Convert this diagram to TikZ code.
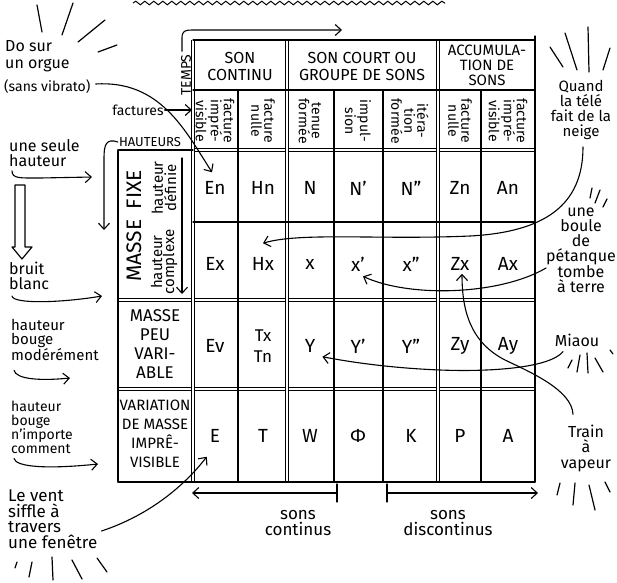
\documentclass[tikz,border=0pt]{standalone}
\usepackage{fontspec}
\setmainfont{Fira Sans}
\usetikzlibrary{arrows.meta,decorations.pathmorphing}
\newcommand{\myfs}[2]{\fontsize{#1}{#2}\selectfont}
\begin{document}
\begin{tikzpicture}[x=1pt,y=-1pt,
  every node/.style={inner sep=1pt},
  ln/.style={line width=1.2pt,line cap=round},
  dbl/.style={line width=0.9pt,double,double distance=1.6pt},
  arr/.style={line width=1.1pt,line cap=round,-{Straight Barb[length=6pt,width=11pt]}},
  ray/.style={line width=1.2pt,line cap=round},
  cell/.style={font=\myfs{19}{19}},
  grp/.style={font=\myfs{16}{17},align=center},
  vh/.style={rotate=-90,font=\myfs{14}{13},align=center},
  lab/.style={anchor=west,align=left},
  rlab/.style={align=center},
]
\fill[white] (0,0) rectangle (617,582);
\useasboundingbox (0,0) rectangle (617,582);

% wavy edge at the top
\draw[line width=1pt,decorate,decoration={snake,amplitude=1.8pt,segment length=9pt}] (133,3) -- (445,3);

% ---- grid: double lines first
\draw[dbl] (193,150) -- (535,150);
\draw[dbl] (118,300) -- (535,300);
\draw[dbl] (118,389) -- (535,389);
\draw[dbl] (193,40) -- (193,482);
\draw[dbl] (287,40) -- (287,482);
\draw[dbl] (438,40) -- (438,482);
% single lines
\draw[ln] (193,40) -- (535,40);
\draw[ln] (193,90) -- (535,90);
\draw[ln] (118,150) -- (193,150);
\draw[ln] (193,222) -- (535,222);
\draw[ln] (118,482) -- (535,482);
\draw[ln] (118,150) -- (118,482);
\draw[ln] (238,90) -- (238,482);
\draw[ln] (334,90) -- (334,482);
\draw[ln] (383,90) -- (383,482);
\draw[ln] (481,90) -- (481,482);
\draw[ln] (535,36) -- (535,482);

% ---- header row 1
\node[grp] (h1) at (240,66) {SON\\CONTINU};
\node[grp] (h2) at (362,66) {SON COURT OU\\GROUPE DE SONS};
\node[grp,font=\myfs{15}{15}] (h3) at (487,65) {ACCUMULA-\\TION DE\\SONS};

% ---- header row 2 (vertical)
\node[vh] (v1) at (215,121) {facture\\impré-\\visible};
\node[vh] (v2) at (263,121) {facture\\nulle};
\node[vh] (v3) at (310,121) {tenue\\formée};
\node[vh] (v4) at (358,121) {impul-\\sion};
\node[vh] (v5) at (410,121) {itéra-\\tion\\formée};
\node[vh] (v6) at (460,121) {facture\\nulle};
\node[vh] (v7) at (508,121) {facture\\impré-\\visible};

% ---- row labels
\node[rotate=90,font=\myfs{21}{21}] (mf) at (134,226) {MASSE\hspace{0.5em}FIXE};
\node[rotate=90,font=\myfs{15}{12},align=center] (hdef) at (164,188) {hauteur\\définie};
\node[rotate=90,font=\myfs{15}{12},align=center] (hcpx) at (164,262) {hauteur\\complexe};
\node[font=\myfs{17}{19},align=center] (mpv) at (155,344) {MASSE\\PEU\\VARI-\\ABLE};
\node[font=\myfs{15}{19},align=center] (vmi) at (155,434) {VARIATION\\DE MASSE\\IMPRÊ-\\VISIBLE};

% ---- cells
\node[cell] (En) at (215,188) {En};
\node[cell] (Hn) at (263,188) {Hn};
\node[cell] (N) at (310,188) {N};
\node[cell] (Np) at (358,188) {N'};
\node[cell] (Npp) at (411,188) {N''};
\node[cell] (Zn) at (460,188) {Zn};
\node[cell] (An) at (508,188) {An};

\node[cell] (Ex) at (215,264) {Ex};
\node[cell] (Hx) at (263,264) {Hx};
\node[cell] (X) at (310,264) {x};
\node[cell] (Xp) at (358,264) {x'};
\node[cell] (Xpp) at (411,264) {x''};
\node[cell] (Zx) at (460,264) {Zx};
\node[cell] (Ax) at (508,264) {Ax};

\node[cell] (Ev) at (215,346) {Ev};
\node[cell,font=\myfs{17}{21},align=center] (T2) at (263,346) {Tx\\Tn};
\node[cell] (Y) at (310,346) {Y};
\node[cell] (Yp) at (358,346) {Y'};
\node[cell] (Ypp) at (411,346) {Y''};
\node[cell] (Zy) at (460,346) {Zy};
\node[cell] (Ay) at (508,346) {Ay};

\node[cell] (E) at (215,436) {E};
\node[cell] (T) at (263,436) {T};
\node[cell] (W) at (310,436) {W};
\node[cell] (Phi) at (358,436) {Φ};
\node[cell] (K) at (411,436) {K};
\node[cell] (P) at (460,436) {P};
\node[cell] (A) at (508,436) {A};

% ---- axis labels
\node[font=\myfs{14}{14}] (factures) at (138,110) {factures};
\node[font=\myfs{13}{13}] (hauteurs) at (150,142) {HAUTEURS};
\node[rotate=90,font=\myfs{14}{14}] (temps) at (186,75) {TEMPS};
\coordinate (tempsend) at (342,30);
\coordinate (factend) at (192,110);
\coordinate (hautend) at (104,230);

\draw[arr] ([xshift=-4pt,yshift=2pt]temps.east) -- (182,38) .. controls (182,31) and (185,30) .. (192,30) -- (tempsend);
\draw[arr] (factures.east) -- (factend);
\draw[arr] (hauteurs.west) .. controls (106,138) and (104,145) .. (104,158) -- (hautend);
\coordinate (fixtop) at (182,158);
\coordinate (fixbot) at (182,294);
\draw[arr] (fixtop) -- (fixbot);

% ---- left labels
\node[lab,font=\myfs{16}{17}] (orgue) at (4,56) {Do sur\\un orgue};
\node[lab,font=\myfs{14}{14}] (sansvib) at (3,87) {(sans vibrato)};
\node[lab,font=\myfs{16}{15}] (seule) at (8,153) {une seule\\hauteur};
\node[lab,font=\myfs{16}{15}] (bruit) at (8,276) {bruit\\blanc};
\node[lab,font=\myfs{15}{14.5}] (modere) at (10,340) {hauteur\\bouge\\modérément};
\node[lab,font=\myfs{14}{14}] (nimp) at (10,427) {hauteur\\bouge\\n'importe\\comment};
\node[lab,font=\myfs{17}{15.5}] (vent) at (7,519) {Le vent\\siffle à\\travers\\une fenêtre};

\coordinate (seuleend) at (92,177);
\coordinate (bruitend) at (102,296);
\coordinate (modend) at (70,378);
\coordinate (nimpend) at (98,464);
\draw[arr] ([xshift=4pt,yshift=-3pt]seule.south west) .. controls +(0,8) and (20,178) .. (40,178) -- (seuleend);
\draw[arr] ([xshift=4pt,yshift=-5pt]bruit.south west) .. controls +(1,8) and (60,303) .. (bruitend);
\draw[arr] ([xshift=4pt,yshift=-8pt]modere.south west) .. controls +(2,9) and (40,381) .. (modend);
\draw[arr] ([xshift=4pt,yshift=-4pt]nimp.south west) .. controls +(2,9) and (50,469) .. (nimpend);

% hollow down arrow
\draw[line width=1.2pt,line join=round] (15,185) -- (25,185) -- (25,247) -- (32,247) -- (22,259) -- (12,247) -- (15,247) -- cycle;

% ---- right labels
\node[rlab,font=\myfs{15}{15}] (quand) at (581,110) {Quand\\la télé\\fait de la\\neige};
\node[rlab,font=\myfs{16}{15}] (boule) at (581,250) {une\\boule\\de\\pétanque\\tombe\\à terre};
\node[rlab,font=\myfs{16}{16}] (miaou) at (577,340) {Miaou};
\node[rlab,font=\myfs{16}{15.5}] (train) at (586,448) {Train\\à\\vapeur};

% ---- connectors from examples to cells
\draw[arr] ([xshift=4pt,yshift=3pt]sansvib.east) .. controls (160,80) and (185,130) .. ([xshift=-3pt,yshift=8pt]En.north);
\draw[arr] ([xshift=2pt,yshift=-6pt]quand.south) .. controls (583,205) and (545,232) .. (470,236) .. controls (380,240) and (300,232) .. ([yshift=13pt]Hx.north);
\draw[arr] ([xshift=1pt,yshift=-18pt]boule.west) .. controls (500,295) and (410,298) .. ([xshift=5pt,yshift=-4pt]Xp.south);
\draw[arr] ([xshift=-14pt,yshift=-4pt]miaou.south) .. controls (550,368) and (490,372) .. (440,370) .. controls (390,368) and (350,362) .. ([xshift=6pt,yshift=-3pt]Y.south east);
\draw[arr] ([xshift=-13pt,yshift=9pt]train.north) .. controls (572,390) and (530,372) .. (505,360) .. controls (470,342) and (462,310) .. ([xshift=2pt,yshift=-2pt]Zx.south);
\draw[arr] ([xshift=3pt,yshift=-12pt]vent.east) .. controls (150,515) and (185,485) .. ([xshift=-2pt,yshift=-13pt]E.south west);

% ---- bottom brackets
\coordinate (lbA) at (337,493);
\coordinate (lbB) at (192,493);
\coordinate (rbA) at (387,493);
\coordinate (rbB) at (538,493);
\draw[ln] (337,484) -- (337,502);
\draw[ln] (387,484) -- (387,502);
\draw[arr] (lbA) -- (lbB);
\draw[arr] (rbA) -- (rbB);
\node[rlab,font=\myfs{17}{15.5}] (scont) at (298,523) {sons\\continus};
\node[rlab,font=\myfs{17}{15.5}] (sdisc) at (448,523) {sons\\discontinus};

% ---- rays
\draw[ray] (37,5) -- (42,32);
\draw[ray] (73,3) -- (62,35);
\draw[ray] (105,20) -- (78,42);
\draw[ray] (117,45) -- (98,52);

\draw[ray] (550,47) -- (563,67);
\draw[ray] (565,33) -- (577,70);
\draw[ray] (588,27) -- (589,72);
\draw[ray] (610,48) -- (603,70);

\draw[ray] (592,188) -- (590,198);
\draw[ray] (600,190) -- (595,203);
\draw[ray] (607,199) -- (603,207);

\draw[ray] (572,360) -- (568,368);
\draw[ray] (580,355) -- (577,372);
\draw[ray] (587,353) -- (588,373);
\draw[ray] (595,358) -- (603,372);
\draw[ray] (610,350) -- (613,354);

\draw[ray] (560,483) -- (557,495);
\draw[ray] (575,483) -- (573,505);
\draw[ray] (589,485) -- (595,510);
\draw[ray] (605,482) -- (610,492);

\draw[ray] (17,562) -- (15,568);
\draw[ray] (32,562) -- (29,577);
\draw[ray] (52,557) -- (53,580);
\draw[ray] (72,560) -- (82,579);
\draw[ray] (97,558) -- (107,572);
\end{tikzpicture}
\end{document}
